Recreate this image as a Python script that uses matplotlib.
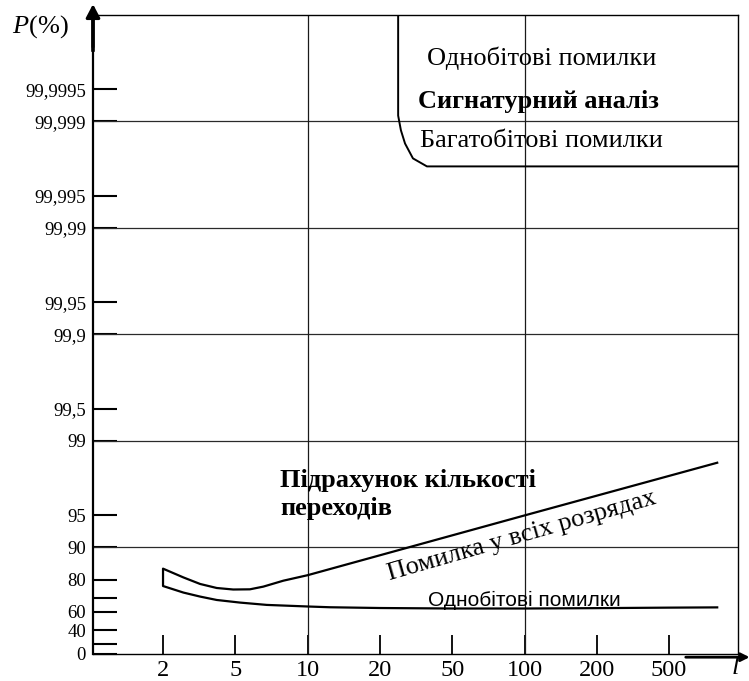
import numpy as np
import matplotlib
matplotlib.use('Agg')
import matplotlib.pyplot as plt

plt.rcParams['font.family'] = ['Liberation Serif', 'DejaVu Serif']
plt.rcParams['mathtext.fontset'] = 'custom'
plt.rcParams['mathtext.it'] = 'Liberation Serif:italic'
plt.rcParams['mathtext.rm'] = 'Liberation Serif'

# x axis: word length l, y axis: detection probability P (%)
l_ticks = [2, 5, 10, 20, 50, 100, 200, 500]
l_grid = [10, 100]
p_ticks = [0, 20, 40, 60, 70, 80, 90, 95, 99, 99.5, 99.9, 99.95,
           99.99, 99.995, 99.999, 99.9995]
p_labels = ['0', '', '40', '60', '', '80', '90', '95', '99', '99,5', '99,9',
            '99,95', '99,99', '99,995', '99,999', '99,9995']
p_grid = [90, 99, 99.9, 99.99, 99.999]

# transition counting: error in all bits (upper edge of the band)
all_l = [2, 2.59, 3.2, 3.95, 4.87, 5.75, 6.54, 7.92, 10, 100, 793]
all_p = [84.2, 80.9, 78.0, 76.0, 75.2, 75.3, 76.7, 79.5, 81.8, 95.0, 98.4]
# transition counting: single-bit errors (lower edge of the band)
single_l = [2, 2.59, 3.2, 3.95, 5.23, 6.76, 10, 12.4, 20, 50, 100, 200, 500, 793]
single_p = [77.0, 73.5, 71.1, 68.9, 67.1, 65.4, 64.2, 63.6, 63.0, 62.6, 62.6,
            62.9, 63.3, 63.5]
# signature analysis boundary
sig_l = [25.2, 25.2, 26.1, 27.5, 30.4, 36.3, 1000]
sig_p = [99.9999, 99.99912, 99.99879, 99.99839, 99.99778, 99.99736, 99.99736]

# equally spaced 1-2-5 steps on x
anchor_log = np.log10([1, 2, 5, 10, 20, 50, 100, 200, 500, 1000])
anchor_pos = np.arange(-1, 9)


def fwd_x(l):
    return np.interp(np.log10(np.clip(np.asarray(l, float), 1e-9, None)),
                     anchor_log, anchor_pos)


def inv_x(pos):
    return 10 ** np.interp(np.asarray(pos, float), anchor_pos, anchor_log)


# probability scale: -log10(100 - P)
def fwd_y(p):
    return -np.log10(np.clip(100 - np.asarray(p, float), 1e-12, None))


def inv_y(t):
    return 100 - 10 ** (-np.asarray(t, float))


fig = plt.figure(figsize=(7.49, 6.81), dpi=100)
ax = fig.add_axes([93 / 749, 27 / 681, 645 / 749, 639 / 681])
ax.set_xscale('function', functions=(fwd_x, inv_x))
ax.set_yscale('function', functions=(fwd_y, inv_y))
ax.set_xlim(1.022, 968)
ax.set_ylim(0, 99.99990)

for g in p_grid:
    ax.axhline(g, color='#2a2a2a', lw=0.9)
for g in l_grid:
    ax.axvline(g, color='#1a1a1a', lw=0.9)

band_l = single_l[::-1] + all_l
band_p = single_p[::-1] + all_p
ax.plot(band_l, band_p, color='black', lw=1.6)
ax.plot(sig_l, sig_p, color='black', lw=1.4)

ax.set_xticks(l_ticks)
ax.set_xticklabels([str(v) for v in l_ticks])
ax.set_yticks(p_ticks)
ax.set_yticklabels(p_labels)
ax.minorticks_off()
ax.tick_params(axis='y', direction='in', length=17, width=1.5, pad=5,
               labelsize=13.5, colors='black')
ax.tick_params(axis='x', direction='in', length=14, width=1.3, pad=4,
               labelsize=17.5, colors='black')

ax.spines['left'].set_linewidth(1.6)
for s in ['top', 'right', 'bottom']:
    ax.spines[s].set_linewidth(1.0)

# axis arrows
ax.plot([0, 0], [1, 0.945], transform=ax.transAxes, color='black', lw=2.6,
        clip_on=False)
ax.annotate('', xy=(0, 1.017), xytext=(0, 0.95), xycoords='axes fraction',
            arrowprops=dict(arrowstyle='-|>,head_length=0.8,head_width=0.42',
                            color='black', lw=2.2, shrinkA=0, shrinkB=0))
ax.annotate('', xy=(1.018, -0.005), xytext=(0.919, -0.005),
            xycoords='axes fraction',
            arrowprops=dict(arrowstyle='-|>,head_length=0.5,head_width=0.25',
                            color='black', lw=2.0, shrinkA=0, shrinkB=0))

fig.text(12 / 749, 1 - 27 / 681, '$P$(%)', fontsize=19, va='center', ha='left')
fig.text(735 / 749, 1 - 668 / 681, '$l$', fontsize=19, va='center', ha='center')

ax.text(0.518, 0.933, 'Однобітові помилки', transform=ax.transAxes,
        fontsize=19, va='center', ha='left')
ax.text(0.504, 0.865, 'Сигнатурний аналіз', transform=ax.transAxes,
        fontsize=19, fontweight='bold', va='center', ha='left')
ax.text(0.507, 0.803, 'Багатобітові помилки', transform=ax.transAxes,
        fontsize=19, va='center', ha='left')
ax.text(0.290, 0.271, 'Підрахунок кількості', transform=ax.transAxes,
        fontsize=19, fontweight='bold', va='center', ha='left')
ax.text(0.290, 0.228, 'переходів', transform=ax.transAxes,
        fontsize=19, fontweight='bold', va='center', ha='left')
ax.text(0.665, 0.185, 'Помилка у всіх розрядах', transform=ax.transAxes,
        fontsize=19, rotation=16, rotation_mode='anchor',
        va='center', ha='center')
ax.text(0.519, 0.083, 'Однобітові помилки', transform=ax.transAxes,
        fontsize=15, family='Liberation Sans', va='center', ha='left')

fig.savefig('out.png', dpi=100)
